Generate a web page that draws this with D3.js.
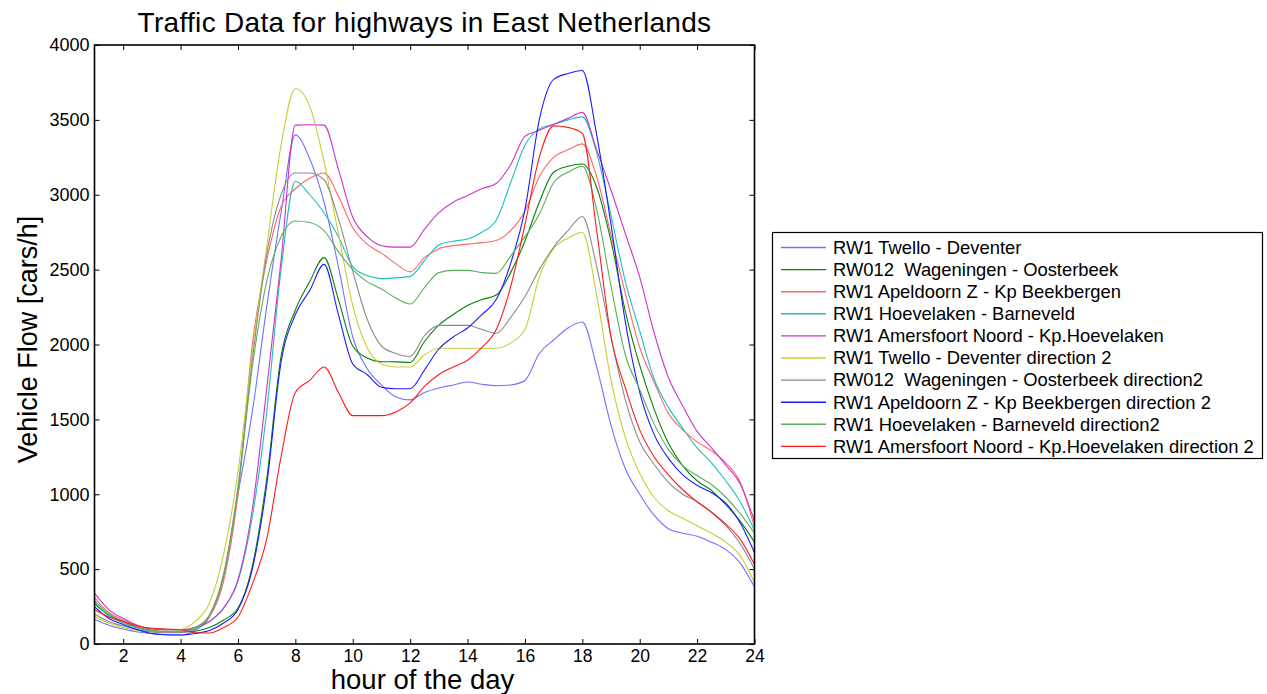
<!DOCTYPE html>
<html>
<head>
<meta charset="utf-8">
<script src="https://cdn.jsdelivr.net/npm/d3@7"></script>
<style>
  body { margin: 0; background: #fff; overflow: hidden; }
  text { font-family: "Liberation Sans", Arial, sans-serif; fill: #000; }
</style>
</head>
<body>
<svg id="chart" width="1267" height="694"></svg>
<script>
// heures (pas d'une demi-heure)
const hours = [1, 1.5, 2, 2.5, 3, 3.5, 4, 4.5, 5, 5.5, 6, 6.5, 7, 7.5, 8, 8.5, 9, 9.5, 10, 10.5,
  11, 11.5, 12, 12.5, 13, 13.5, 14, 14.5, 15, 15.5, 16, 16.5, 17, 17.5, 18, 18.5, 19, 19.5,
  20, 20.5, 21, 21.5, 22, 22.5, 23, 23.5, 24];

const xTicks = [2, 4, 6, 8, 10, 12, 14, 16, 18, 20, 22, 24];
const yTicks = [0, 500, 1000, 1500, 2000, 2500, 3000, 3500, 4000];

// valeurs (véhicules / h)
const twelloDeventer = [165, 125, 100, 80, 70, 62, 60, 90, 180, 450, 1000, 1550, 2250, 2880, 3400, 3240, 2950, 2520, 2050, 1840,
  1730, 1650, 1630, 1680, 1710, 1730, 1750, 1735, 1725, 1730, 1760, 1940, 2030, 2110, 2150, 1850, 1460, 1170,
  1000, 860, 770, 740, 720, 680, 630, 540, 380];
const wageningenOosterbeek = [270, 190, 150, 110, 90, 82, 80, 85, 110, 160, 240, 520, 1100, 1920, 2230, 2420, 2580, 2300, 1990, 1910,
  1885, 1884, 1880, 2020, 2130, 2200, 2260, 2300, 2330, 2480, 2690, 2950, 3150, 3190, 3205, 3050, 2690, 2220,
  1860, 1570, 1340, 1190, 1090, 1025, 930, 820, 680];
const apeldoornBeekbergen = [310, 210, 160, 120, 100, 95, 95, 110, 180, 420, 1000, 2000, 2560, 2920, 3040, 3110, 3145, 2990, 2780, 2670,
  2610, 2540, 2485, 2580, 2640, 2660, 2670, 2680, 2695, 2760, 2890, 3120, 3250, 3300, 3340, 3120, 2730, 2340,
  1980, 1750, 1540, 1430, 1350, 1290, 1210, 1080, 780];
const hoevelakenBarneveld = [280, 190, 140, 105, 85, 80, 80, 100, 150, 240, 420, 850, 1550, 2500, 3090, 3000, 2880, 2720, 2520, 2460,
  2440, 2445, 2455, 2560, 2665, 2690, 2705, 2750, 2830, 3080, 3330, 3440, 3470, 3500, 3520, 3280, 2860, 2420,
  2090, 1770, 1580, 1440, 1310, 1210, 1090, 950, 760];
const amersfoortHoevelaken = [340, 230, 170, 125, 100, 95, 95, 110, 150, 240, 430, 900, 1700, 2560, 3465, 3467, 3465, 3170, 2850, 2720,
  2660, 2650, 2650, 2770, 2880, 2950, 2995, 3040, 3075, 3200, 3390, 3430, 3470, 3510, 3550, 3300, 3030, 2740,
  2450, 2080, 1780, 1590, 1420, 1310, 1195, 1070, 820];
const twelloDeventer2 = [185, 140, 110, 90, 80, 80, 95, 150, 270, 600, 1150, 1950, 2650, 3330, 3710, 3590, 3220, 2740, 2260, 1980,
  1870, 1850, 1850, 1930, 1975, 1975, 1975, 1975, 1975, 2010, 2100, 2450, 2640, 2710, 2750, 2330, 1760, 1380,
  1140, 980, 890, 840, 790, 740, 680, 590, 410];
const wageningenOosterbeek2 = [200, 150, 120, 95, 80, 75, 75, 100, 190, 470, 1050, 1900, 2600, 3000, 3145, 3145, 3100, 2840, 2490, 2170,
  1990, 1940, 1920, 2060, 2128, 2128, 2128, 2100, 2075, 2180, 2320, 2500, 2650, 2760, 2855, 2520, 2050, 1630,
  1350, 1200, 1080, 1000, 950, 880, 790, 670, 500];
const apeldoornBeekbergen2 = [250, 170, 130, 95, 70, 62, 60, 70, 90, 140, 230, 500, 1060, 1880, 2200, 2360, 2535, 2200, 1870, 1800,
  1715, 1705, 1705, 1830, 1970, 2050, 2110, 2200, 2300, 2540, 2900, 3500, 3770, 3810, 3830, 3400, 2800, 2150,
  1680, 1400, 1240, 1130, 1060, 1010, 940, 810, 610];
const hoevelakenBarneveld2 = [290, 200, 150, 110, 90, 85, 85, 110, 190, 450, 1030, 1850, 2420, 2720, 2825, 2815, 2760, 2620, 2500, 2420,
  2370, 2310, 2270, 2380, 2480, 2495, 2495, 2480, 2475, 2590, 2720, 2870, 3080, 3150, 3190, 2900, 2390, 1930,
  1700, 1470, 1300, 1190, 1125, 1065, 980, 870, 740];
const amersfoortHoevelaken2 = [230, 180, 150, 120, 105, 100, 95, 75, 73, 110, 180, 400, 700, 1250, 1680, 1760, 1850, 1680, 1525, 1525,
  1525, 1550, 1610, 1720, 1800, 1850, 1895, 1980, 2100, 2384, 2800, 3250, 3460, 3450, 3410, 2760, 2050, 1710,
  1430, 1250, 1130, 1030, 950, 880, 800, 700, 530];

const series = [
  { name: "RW1 Twello - Deventer", color: "#7070ff", values: twelloDeventer },
  { name: "RW012  Wageningen - Oosterbeek", color: "#0a800a", values: wageningenOosterbeek },
  { name: "RW1 Apeldoorn Z - Kp Beekbergen", color: "#ff6666", values: apeldoornBeekbergen },
  { name: "RW1 Hoevelaken - Barneveld", color: "#1fbfbf", values: hoevelakenBarneveld },
  { name: "RW1 Amersfoort Noord - Kp.Hoevelaken", color: "#cc33cc", values: amersfoortHoevelaken },
  { name: "RW1 Twello - Deventer direction 2", color: "#cccc33", values: twelloDeventer2 },
  { name: "RW012  Wageningen - Oosterbeek direction2", color: "#8c8c8c", values: wageningenOosterbeek2 },
  { name: "RW1 Apeldoorn Z - Kp Beekbergen direction 2", color: "#1a1aff", values: apeldoornBeekbergen2 },
  { name: "RW1 Hoevelaken - Barneveld direction2", color: "#5aaf5a", values: hoevelakenBarneveld2 },
  { name: "RW1 Amersfoort Noord - Kp.Hoevelaken direction 2", color: "#ff1a1a", values: amersfoortHoevelaken2 }
];

// --- zone de tracé ---
const plotLeft = 94.5, plotRight = 754.5, plotTop = 45, plotBottom = 644;

const svg = d3.select("#chart");

const x = d3.scaleLinear().domain([1, 24]).range([plotLeft, plotRight]);
const y = d3.scaleLinear().domain([0, 4000]).range([plotBottom, plotTop]);

svg.append("defs").append("clipPath").attr("id", "plotClip")
  .append("rect").attr("x", plotLeft).attr("y", plotTop)
  .attr("width", plotRight - plotLeft).attr("height", plotBottom - plotTop);

// courbes
const line = d3.line()
  .x((d, i) => x(hours[i]))
  .y(d => y(d))
  .curve(d3.curveMonotoneX);

svg.append("g").attr("clip-path", "url(#plotClip)")
  .selectAll("path")
  .data(series)
  .join("path")
  .attr("d", d => line(d.values))
  .attr("fill", "none")
  .attr("stroke", d => d.color)
  .attr("stroke-width", 1.1);

// axes (ticks vers l'intérieur, style MATLAB)
const axisStyle = size => g => {
  g.select(".domain").remove();
  g.selectAll(".tick line").attr("stroke", "#000").attr("stroke-width", 1);
  g.selectAll(".tick text").attr("font-size", size).attr("fill", "#000")
    .style("font-family", '"Liberation Sans", Arial, sans-serif');
};

svg.append("g")
  .attr("transform", `translate(0,${plotBottom})`)
  .call(d3.axisBottom(x).tickValues(xTicks).tickSizeInner(-5).tickSizeOuter(0).tickPadding(6))
  .call(axisStyle(17.5));

svg.append("g")
  .attr("transform", `translate(0,${plotTop})`)
  .call(d3.axisTop(x).tickValues(xTicks).tickSizeInner(-5).tickSizeOuter(0).tickFormat(""))
  .call(axisStyle(17.5));

svg.append("g")
  .attr("transform", `translate(${plotLeft},0)`)
  .call(d3.axisLeft(y).tickValues(yTicks).tickFormat(d3.format("d"))
    .tickSizeInner(-5).tickSizeOuter(0).tickPadding(5))
  .call(axisStyle(18));

svg.append("g")
  .attr("transform", `translate(${plotRight},0)`)
  .call(d3.axisRight(y).tickValues(yTicks).tickSizeInner(-5).tickSizeOuter(0).tickFormat(""))
  .call(axisStyle(18));

// cadre
svg.append("rect")
  .attr("x", plotLeft).attr("y", plotTop)
  .attr("width", plotRight - plotLeft).attr("height", plotBottom - plotTop)
  .attr("fill", "none").attr("stroke", "#000").attr("stroke-width", 1.6);

// titres
svg.append("text")
  .attr("x", (plotLeft + plotRight) / 2).attr("y", 32)
  .attr("text-anchor", "middle").attr("font-size", 28)
  .attr("letter-spacing", 0.3)
  .text("Traffic Data for highways in East Netherlands");

svg.append("text")
  .attr("x", (plotLeft + plotRight) / 2 - 2).attr("y", 689)
  .attr("text-anchor", "middle").attr("font-size", 27.5)
  .text("hour of the day");

svg.append("text")
  .attr("transform", `translate(37,${(plotTop + plotBottom) / 2 - 5}) rotate(-90)`)
  .attr("text-anchor", "middle").attr("font-size", 27)
  .text("Vehicle Flow [cars/h]");

// légende
const legend = svg.append("g");
legend.append("rect")
  .attr("x", 772.5).attr("y", 232.5)
  .attr("width", 490).attr("height", 226)
  .attr("fill", "#fff").attr("stroke", "#000").attr("stroke-width", 1.2);

const item = legend.selectAll("g.item")
  .data(series)
  .join("g")
  .attr("class", "item")
  .attr("transform", (d, i) => `translate(0,${247.5 + i * 22.1})`);

item.append("line")
  .attr("x1", 781).attr("x2", 826)
  .attr("stroke", d => d.color).attr("stroke-width", 1.4);

item.append("text")
  .attr("x", 833).attr("y", 6.3)
  .attr("font-size", 18.4)
  .style("white-space", "pre")
  .text(d => d.name);
</script>
</body>
</html>
